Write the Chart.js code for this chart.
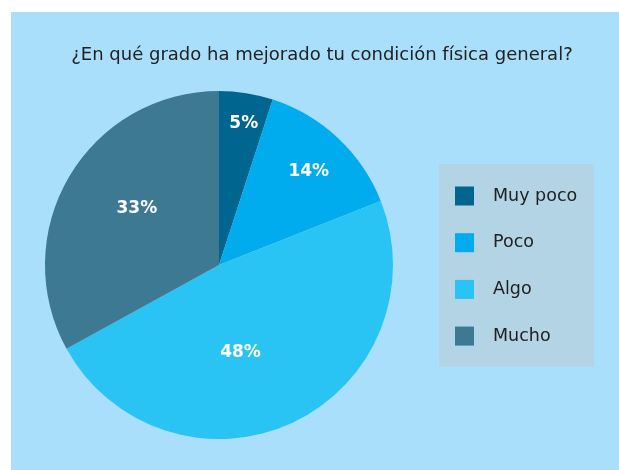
<!DOCTYPE html>
<html>
<head>
<meta charset="utf-8">
<script src="https://cdn.jsdelivr.net/npm/chart.js@4"></script>
<style>
  body { margin: 0; background: #fff; }
  #wrap { position: absolute; left: 11px; top: 12px; width: 608px; height: 458px; background: #A9DFFA; }
</style>
</head>
<body>
<div id="wrap"><canvas id="chart" width="608" height="458"></canvas></div>
<script>
const chartTitle = '¿En qué grado ha mejorado tu condición física general?';
const categories = ['Muy poco', 'Poco', 'Algo', 'Mucho'];
const percentages = [5, 14, 48, 33];
const sliceColors = ['#00668F', '#00ACEE', '#29C4F3', '#3D7993'];

const FONT = '"DejaVu Sans", "Liberation Sans", sans-serif';

// percent labels inside the slices (white, bold)
const sliceLabels = {
    id: 'sliceLabels',
    afterDatasetsDraw(chart) {
        const ctx = chart.ctx;
        const meta = chart.getDatasetMeta(0);
        // label placement: fraction of radius and a small angular nudge per slice
        const radii = [0.83, 0.75, 0.51, 0.575];
        const nudge = [0.015, 0.005, 0.195, 0.073];
        ctx.save();
        ctx.font = 'bold 17px ' + FONT;
        ctx.fillStyle = '#fff';
        ctx.textAlign = 'center';
        ctx.textBaseline = 'middle';
        meta.data.forEach(function(arc, i) {
            const p = arc.getProps(['x', 'y', 'startAngle', 'endAngle', 'outerRadius'], true);
            const mid = (p.startAngle + p.endAngle) / 2 + nudge[i];
            const r = p.outerRadius * radii[i];
            ctx.fillText(percentages[i] + '%', p.x + Math.cos(mid) * r, p.y + Math.sin(mid) * r + 1);
        });
        ctx.restore();
    }
};

// title across the whole canvas + legend in a shaded box on the right
const titleAndLegend = {
    id: 'titleAndLegend',
    afterDraw(chart) {
        const ctx = chart.ctx;
        ctx.save();
        ctx.font = '18px ' + FONT;
        ctx.fillStyle = '#222';
        ctx.textAlign = 'center';
        ctx.textBaseline = 'middle';
        ctx.fillText(chartTitle, 311, 43);

        const x = 428, y = 152, w = 155, h = 203;
        ctx.fillStyle = '#B3D4E4';
        ctx.fillRect(x, y, w, h);
        ctx.font = '17.5px ' + FONT;
        ctx.textAlign = 'left';
        categories.forEach(function(label, i) {
            const cy = y + 32 + i * 46.7;
            ctx.fillStyle = sliceColors[i];
            ctx.fillRect(x + 16, cy - 9.5, 19, 19);
            ctx.fillStyle = '#222';
            ctx.fillText(label, x + 54, cy);
        });
        ctx.restore();
    }
};

new Chart(document.getElementById('chart').getContext('2d'), {
    type: 'pie',
    data: {
        labels: categories,
        datasets: [{
            data: percentages,
            backgroundColor: sliceColors,
            borderWidth: 0
        }]
    },
    options: {
        responsive: false,
        animation: false,
        layout: { padding: { left: 0, right: 192, top: 79, bottom: 31 } },
        plugins: {
            legend: { display: false },
            tooltip: { enabled: false },
            title: { display: false }
        }
    },
    plugins: [sliceLabels, titleAndLegend]
});
</script>
</body>
</html>
